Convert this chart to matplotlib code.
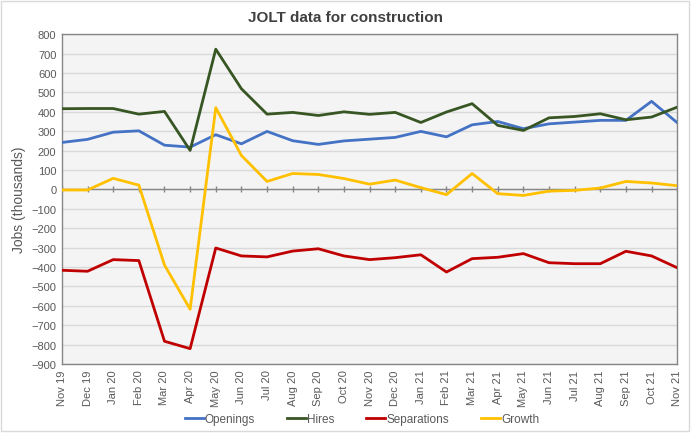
import numpy as np
import matplotlib.pyplot as plt
from matplotlib.patches import Rectangle

plt.rcParams['font.family'] = ['Liberation Sans', 'DejaVu Sans']

months = ['Nov 19', 'Dec 19', 'Jan 20', 'Feb 20', 'Mar 20', 'Apr 20', 'May 20', 'Jun 20',
          'Jul 20', 'Aug 20', 'Sep 20', 'Oct 20', 'Nov 20', 'Dec 20', 'Jan 21', 'Feb 21',
          'Mar 21', 'Apr 21', 'May 21', 'Jun 21', 'Jul 21', 'Aug 21', 'Sep 21', 'Oct 21', 'Nov 21']

openings = [242, 258, 295, 302, 228, 218, 282, 235, 299, 251, 232, 250, 259, 268, 299, 271,
            333, 350, 313, 338, 347, 356, 356, 454, 344]
hires = [416, 417, 417, 388, 402, 201, 723, 519, 388, 397, 381, 400, 387, 397, 345, 399,
         442, 330, 304, 369, 376, 390, 359, 373, 424]
separations = [-417, -422, -362, -367, -783, -821, -302, -343, -348, -318, -306, -343, -362,
               -352, -337, -426, -357, -350, -331, -378, -383, -383, -319, -343, -404]
growth = [-3, -3, 57, 22, -390, -618, 421, 175, 41, 82, 77, 56, 27, 48, 9, -27,
          82, -22, -31, -9, -5, 7, 41, 33, 19]

x = np.arange(len(months))
txt = '#595959'

fig = plt.figure(figsize=(6.96, 4.35), dpi=100)
fig.patches.append(Rectangle((0.002, 0.006), 0.988, 0.99, transform=fig.transFigure,
                             fill=False, edgecolor='#d9d9d9', linewidth=1))
ax = fig.add_axes([0.089, 0.161, 0.884, 0.758])
ax.set_facecolor('#f4f4f4')

# horizontal axis crossing at zero, with tick marks (drawn under the series)
ax.axhline(0, color='#868686', lw=1, zorder=2)
ax.plot(x, np.zeros(len(x)), ls='none', marker='|', ms=5, mew=1, color='#868686', zorder=2)

ax.plot(x, openings, color='#4472C4', lw=2, label='Openings', zorder=3)
ax.plot(x, hires, color='#375623', lw=2, label='Hires', zorder=3)
ax.plot(x, separations, color='#C00000', lw=2, label='Separations', zorder=3)
ax.plot(x, growth, color='#FFC000', lw=2, label='Growth', zorder=4)

ax.set_xlim(0, len(months) - 1)
ax.set_ylim(-900, 800)
ax.set_yticks(np.arange(-900, 801, 100))
ax.grid(axis='y', color='#d9d9d9', lw=1)
ax.set_axisbelow(True)
ax.set_xticks(x)
ax.set_xticklabels(months, rotation=90, fontsize=8, color=txt)
ax.tick_params(axis='x', length=0, pad=4)
ax.tick_params(axis='y', length=0, labelsize=8, labelcolor=txt, pad=4)
for s in ax.spines.values():
    s.set_color('#868686')
    s.set_linewidth(1)

ax.set_ylabel('Jobs (thousands)', fontsize=10, color=txt, labelpad=4)
fig.suptitle('JOLT data for construction', x=0.497, y=0.975, fontsize=11,
             fontweight='bold', color='#404040')

handles, labels = ax.get_legend_handles_labels()
fig.legend(handles[-4:], labels[-4:], loc='center', bbox_to_anchor=(0.52, 0.034), ncol=4,
           frameon=False, fontsize=8.5, handlelength=1.6, handletextpad=0.1,
           columnspacing=2.7, labelcolor=txt)

fig.savefig('out.png', dpi=100)
